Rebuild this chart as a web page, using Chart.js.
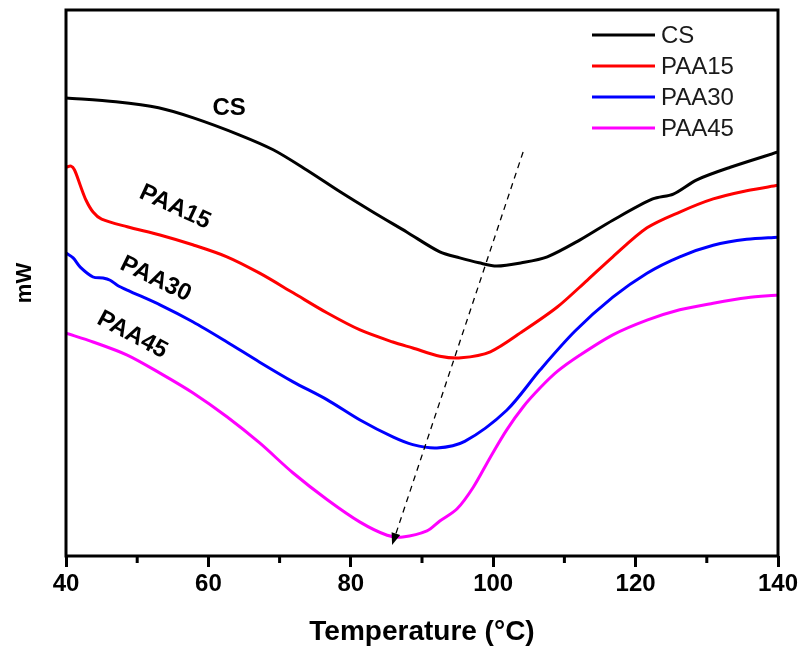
<!DOCTYPE html>
<html>
<head>
<meta charset="utf-8">
<script src="https://cdn.jsdelivr.net/npm/chart.js@4.4.1/dist/chart.umd.min.js"></script>
<style>
  html, body { margin: 0; padding: 0; background: #fff; }
  #wrap { width: 804px; height: 651px; }
</style>
</head>
<body>
<div id="wrap"><canvas id="chart" width="804" height="651"></canvas></div>
<script>
const FONT = "'Liberation Sans', Arial, sans-serif";

const seriesNames = ['CS', 'PAA15', 'PAA30', 'PAA45'];
const seriesColors = ['#000000', '#ff0000', '#0000ff', '#ff00ff'];

// DSC traces, temperature (°C) and heat flow (arbitrary mW units, offset per curve)
const csTemp = [40, 47, 53, 58, 64.4, 69.1, 73.8, 78.5, 83.1, 87.9, 92.5, 95.3, 98, 100.5, 104, 107.6, 112.2, 116.8, 122.4, 125.3, 128.6, 133.3, 140];
const csFlow = [8.39, 8.32, 8.21, 8.02, 7.71, 7.44, 7.07, 6.67, 6.30, 5.93, 5.57, 5.46, 5.37, 5.31, 5.37, 5.48, 5.79, 6.15, 6.54, 6.63, 6.89, 7.12, 7.40];

const paa15Temp = [40, 40.7, 41.2, 42, 42.8, 43.8, 45, 48.6, 53.2, 57.8, 62.6, 67.2, 71.9, 76.7, 81.3, 85.9, 88.7, 92.5, 95.5, 99.6, 104.2, 109, 113.2, 116.8, 121.6, 126.2, 130.9, 135.6, 140];
const paa15Flow = [7.12, 7.14, 7.07, 6.79, 6.52, 6.30, 6.17, 6.03, 5.88, 5.70, 5.48, 5.18, 4.82, 4.45, 4.14, 3.92, 3.81, 3.66, 3.63, 3.74, 4.12, 4.56, 5.05, 5.48, 6.01, 6.30, 6.54, 6.69, 6.79];

const paa30Temp = [40, 41, 42, 43.8, 45.2, 46.2, 47.2, 48.6, 53.2, 57.8, 62.6, 67.2, 71.9, 76.7, 81.3, 85.9, 88.7, 92.1, 96, 101.9, 106.6, 111.5, 116.8, 121.6, 126.2, 130.9, 135.6, 140];
const paa30Flow = [5.55, 5.46, 5.29, 5.11, 5.09, 5.05, 4.96, 4.87, 4.60, 4.29, 3.92, 3.55, 3.19, 2.86, 2.49, 2.18, 2.04, 1.98, 2.10, 2.67, 3.41, 4.12, 4.74, 5.18, 5.48, 5.69, 5.80, 5.84];

const paa45Temp = [40, 43.8, 48.6, 53.2, 57.8, 62.6, 67.2, 71.9, 76.7, 81.3, 85.1, 87.3, 90.7, 92.5, 94.9, 97.2, 99.6, 101.9, 104.2, 106.6, 109, 112.2, 116.8, 121.6, 126.2, 130.9, 135.6, 140];
const paa45Flow = [4.08, 3.92, 3.68, 3.35, 2.99, 2.55, 2.07, 1.52, 1.03, 0.62, 0.38, 0.35, 0.46, 0.64, 0.86, 1.26, 1.81, 2.31, 2.73, 3.08, 3.38, 3.68, 4.05, 4.32, 4.51, 4.63, 4.73, 4.78];

const xTicks = [40, 60, 80, 100, 120, 140];
const minorTicks = [50, 70, 90, 110, 130];

// text next to each curve: text, temperature, value, rotation (deg)
const curveLabels = [
  ['CS', 62.9, 8.19, 0],
  ['PAA15', 55.3, 6.39, 25],
  ['PAA30', 52.6, 5.07, 26],
  ['PAA45', 49.3, 4.05, 28]
];

// dashed arrow following the peak shift
const arrowFrom = [104.2, 7.40];
const arrowTo = [85.8, 0.20];

function pairs(xs, ys) {
  return xs.map((t, i) => ({ x: t, y: ys[i] }));
}

const traces = [
  pairs(csTemp, csFlow),
  pairs(paa15Temp, paa15Flow),
  pairs(paa30Temp, paa30Flow),
  pairs(paa45Temp, paa45Flow)
];

const decor = {
  id: 'decor',
  afterDatasetsDraw(chart) {
    const ctx = chart.ctx;
    const a = chart.chartArea;
    const x = chart.scales.x, y = chart.scales.y;
    ctx.save();

    // frame
    ctx.strokeStyle = '#000';
    ctx.lineWidth = 3;
    ctx.strokeRect(a.left, a.top, a.right - a.left, a.bottom - a.top);

    // minor ticks
    ctx.beginPath();
    minorTicks.forEach(v => {
      const px = x.getPixelForValue(v);
      ctx.moveTo(px, a.bottom);
      ctx.lineTo(px, a.bottom + 7);
    });
    ctx.stroke();

    // arrow
    const x1 = x.getPixelForValue(arrowFrom[0]), y1 = y.getPixelForValue(arrowFrom[1]);
    const x2 = x.getPixelForValue(arrowTo[0]), y2 = y.getPixelForValue(arrowTo[1]);
    const ang = Math.atan2(y2 - y1, x2 - x1);
    const c = Math.cos(ang), s = Math.sin(ang);
    ctx.lineWidth = 1.3;
    ctx.setLineDash([6, 5]);
    ctx.beginPath();
    ctx.moveTo(x1, y1);
    ctx.lineTo(x2 - 9 * c, y2 - 9 * s);
    ctx.stroke();
    ctx.setLineDash([]);
    ctx.fillStyle = '#000';
    ctx.beginPath();
    ctx.moveTo(x2, y2);
    ctx.lineTo(x2 - 12 * c + 4.5 * s, y2 - 12 * s - 4.5 * c);
    ctx.lineTo(x2 - 12 * c - 4.5 * s, y2 - 12 * s + 4.5 * c);
    ctx.closePath();
    ctx.fill();

    // labels on the curves
    ctx.font = 'bold 24px ' + FONT;
    ctx.textAlign = 'center';
    ctx.textBaseline = 'middle';
    curveLabels.forEach(l => {
      ctx.save();
      ctx.translate(x.getPixelForValue(l[1]), y.getPixelForValue(l[2]));
      ctx.rotate(l[3] * Math.PI / 180);
      ctx.fillText(l[0], 0, 0);
      ctx.restore();
    });

    // legend, top right inside the frame
    ctx.font = '24px ' + FONT;
    ctx.textAlign = 'left';
    chart.data.datasets.forEach((ds, i) => {
      const ly = a.top + 25 + i * 31;
      ctx.strokeStyle = ds.borderColor;
      ctx.lineWidth = 3;
      ctx.beginPath();
      ctx.moveTo(a.right - 186, ly);
      ctx.lineTo(a.right - 123, ly);
      ctx.stroke();
      ctx.fillStyle = '#1a1a1a';
      ctx.fillText(ds.label, a.right - 117, ly + 1);
    });

    ctx.restore();
  }
};

const config = {
  type: 'line',
  data: {
    datasets: traces.map((d, i) => ({
      label: seriesNames[i],
      data: d,
      borderColor: seriesColors[i],
      borderWidth: 3,
      pointRadius: 0,
      fill: false,
      tension: 0.3
    }))
  },
  options: {
    responsive: false,
    animation: false,
    layout: { padding: { top: 10, right: 26, left: 0, bottom: 0 } },
    plugins: {
      legend: { display: false },
      tooltip: { enabled: false }
    },
    scales: {
      x: {
        type: 'linear',
        min: 40,
        max: 140,
        afterBuildTicks: s => { s.ticks = xTicks.map(v => ({ value: v })); },
        afterFit: s => { s.height = 95; },
        ticks: {
          color: '#000',
          padding: 3,
          maxRotation: 0,
          font: { family: FONT, size: 24, weight: 'bold' }
        },
        grid: {
          drawOnChartArea: false,
          drawTicks: true,
          tickLength: 11,
          tickWidth: 3,
          tickColor: '#000'
        },
        border: { display: false },
        title: {
          display: true,
          text: 'Temperature (°C)',
          color: '#000',
          font: { family: FONT, size: 28, weight: 'bold' },
          padding: { top: 0, bottom: 2 }
        }
      },
      y: {
        min: 0,
        max: 10,
        afterFit: s => { s.width = 66; },
        ticks: { display: false },
        grid: { display: false },
        border: { display: false },
        title: {
          display: true,
          text: 'mW',
          color: '#000',
          font: { family: FONT, size: 22, weight: 'bold' },
          padding: { top: 12, bottom: 0 }
        }
      }
    }
  },
  plugins: [decor]
};

function main() {
  const ctx = document.getElementById('chart').getContext('2d');
  new Chart(ctx, config);
}

main();
</script>
</body>
</html>
